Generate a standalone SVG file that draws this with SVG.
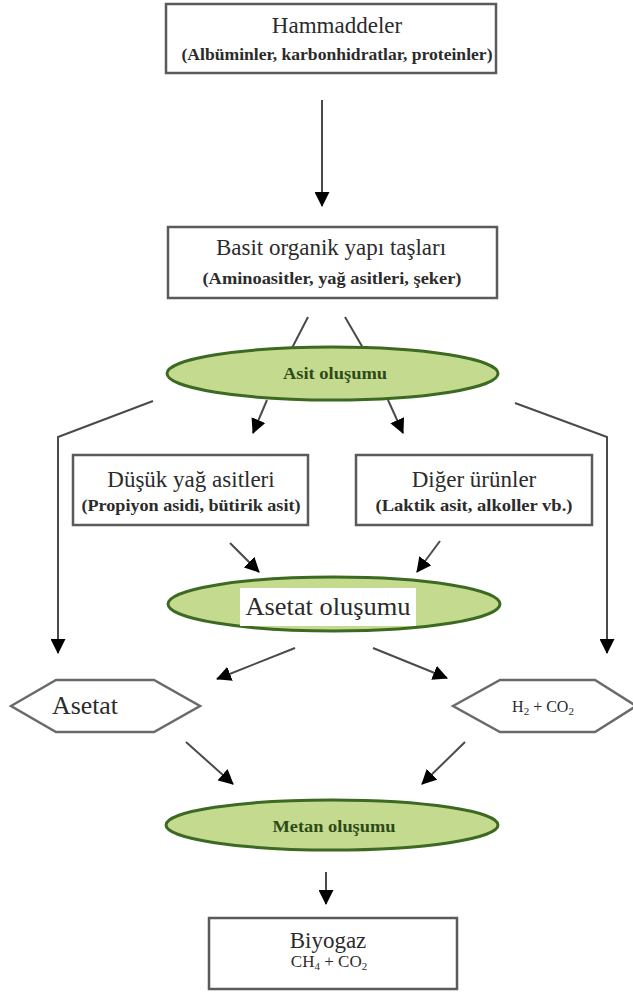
<svg xmlns="http://www.w3.org/2000/svg" width="633" height="994" viewBox="0 0 633 994">
<style>
.box{fill:#fff;stroke:#5a5a5a;stroke-width:2.5}
.ell{fill:#c4da8e;stroke:#3d6a22;stroke-width:3}
.hex{fill:#fff;stroke:#6a6a6a;stroke-width:2.5}
.t{font-family:'Times New Roman','Liberation Serif','DejaVu Serif',serif;fill:#2b2b2b;text-anchor:middle}
.title{font-size:23px}
.sub{font-size:16px;font-weight:bold}
.el{font-size:16px;font-weight:bold;fill:#2d4a18}
.conn{fill:none;stroke:#4a4a4a;stroke-width:2}
.arr{marker-end:url(#ah)}
</style>
<defs>
<marker id="ah" markerUnits="userSpaceOnUse" markerWidth="15" markerHeight="15" refX="14" refY="7.5" orient="auto">
<path d="M0,0 L15,7.5 L0,15 z" fill="#000"/>
</marker>
</defs>
<rect width="633" height="994" fill="#fff"/>

<g id="connectors">
<line class="conn arr" x1="322" y1="100" x2="322" y2="206"/>
<line class="conn" x1="308" y1="317" x2="292" y2="348"/>
<line class="conn" x1="345" y1="317" x2="363" y2="348"/>
<line class="conn arr" x1="267" y1="400" x2="253" y2="433"/>
<line class="conn arr" x1="388" y1="400" x2="403" y2="433"/>
<polyline class="conn arr" points="153,401 58,437 58,653"/>
<polyline class="conn arr" points="515,403 607,437 607,653"/>
<line class="conn arr" x1="230" y1="543" x2="259" y2="572"/>
<line class="conn arr" x1="440" y1="541" x2="417" y2="572"/>
<line class="conn arr" x1="295" y1="648" x2="217" y2="679"/>
<line class="conn arr" x1="373" y1="648" x2="447" y2="678"/>
<line class="conn arr" x1="186" y1="742" x2="233" y2="784"/>
<line class="conn arr" x1="465" y1="742" x2="422" y2="784"/>
<line class="conn arr" x1="326" y1="872" x2="326" y2="904"/>
</g>

<g id="hammaddeler">
<rect class="box" x="166" y="4" width="330" height="69"/>
<text class="t title" x="337" y="33" font-family="'Liberation Serif', serif">Hammaddeler</text>
<text class="t sub" x="337" y="60" font-family="'Liberation Serif', serif" textLength="311" lengthAdjust="spacingAndGlyphs">(Albüminler, karbonhidratlar, proteinler)</text>
</g>

<g id="basit">
<rect class="box" x="168" y="227" width="329" height="71"/>
<text class="t title" x="331" y="255" font-family="'Liberation Serif', serif">Basit organik yapı taşları</text>
<text class="t sub" x="332" y="284" font-family="'Liberation Serif', serif" textLength="259" lengthAdjust="spacingAndGlyphs">(Aminoasitler, yağ asitleri, şeker)</text>
</g>

<g id="asit">
<ellipse class="ell" cx="332.5" cy="373.5" rx="165.5" ry="26.5"/>
<text class="t el" x="335" y="379" font-family="'Liberation Serif', serif" textLength="104" lengthAdjust="spacingAndGlyphs">Asit oluşumu</text>
</g>

<g id="dusuk">
<rect class="box" x="73" y="455" width="235" height="70"/>
<text class="t title" x="191" y="487" font-family="'Liberation Serif', serif">Düşük yağ asitleri</text>
<text class="t sub" x="191" y="511" font-family="'Liberation Serif', serif" textLength="219" lengthAdjust="spacingAndGlyphs">(Propiyon asidi, bütirik asit)</text>
</g>

<g id="diger">
<rect class="box" x="356" y="455" width="236" height="70"/>
<text class="t title" x="474" y="487" font-family="'Liberation Serif', serif">Diğer ürünler</text>
<text class="t sub" x="474" y="511" font-family="'Liberation Serif', serif" textLength="197" lengthAdjust="spacingAndGlyphs">(Laktik asit, alkoller vb.)</text>
</g>

<g id="asetat-olusumu">
<ellipse class="ell" cx="334" cy="604" rx="166" ry="27"/>
<rect x="240" y="588" width="176" height="38" fill="#fff"/>
<text class="t" x="328" y="615" font-family="'Liberation Serif', serif" font-size="25" fill="#111" textLength="165" lengthAdjust="spacingAndGlyphs">Asetat oluşumu</text>
</g>

<g id="asetat">
<polygon class="hex" points="11,706 56,680 154,680 200,706 154,732 56,732"/>
<text class="t" x="85" y="714" font-family="'Liberation Serif', serif" font-size="25" fill="#111" textLength="66" lengthAdjust="spacingAndGlyphs">Asetat</text>
</g>

<g id="h2co2">
<polygon class="hex" points="453,706 500,680 595,680 636,706 595,732 500,732"/>
<text class="t" x="543" y="712" font-family="'Liberation Serif', serif" font-size="16">H<tspan font-size="11" dy="3">2</tspan><tspan dy="-3"> + CO</tspan><tspan font-size="11" dy="3">2</tspan></text>
</g>

<g id="metan">
<ellipse class="ell" cx="332" cy="825" rx="166" ry="25"/>
<text class="t el" x="334" y="832" font-family="'Liberation Serif', serif" textLength="123" lengthAdjust="spacingAndGlyphs">Metan oluşumu</text>
</g>

<g id="biyogaz">
<rect class="box" x="209" y="918" width="248" height="71"/>
<text class="t title" x="328" y="948" font-family="'Liberation Serif', serif">Biyogaz</text>
<text class="t" x="329" y="967" font-family="'Liberation Serif', serif" font-size="17">CH<tspan font-size="11" dy="3">4</tspan><tspan dy="-3"> + CO</tspan><tspan font-size="11" dy="3">2</tspan></text>
</g>
</svg>
